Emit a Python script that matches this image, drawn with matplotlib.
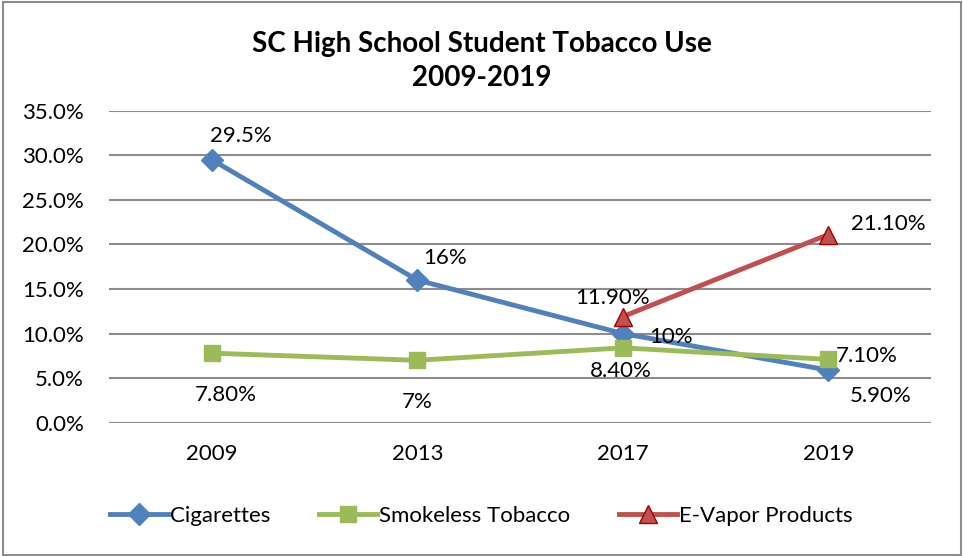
import matplotlib.pyplot as plt
from matplotlib.patches import Rectangle

years = ["2009", "2013", "2017", "2019"]
cigarettes = [29.5, 16, 10, 5.9]
smokeless = [7.8, 7, 8.4, 7.1]
vapor_x = [2, 3]
vapor = [11.9, 21.1]

cig_labels = ["29.5%", "16%", "10%", "5.90%"]
smk_labels = ["7.80%", "7%", "8.40%", "7.10%"]
vap_labels = ["11.90%", "21.10%"]

plt.rcParams['font.family'] = ['Lato', 'DejaVu Sans']

fig = plt.figure(figsize=(9.63, 5.56), dpi=100)
ax = fig.add_axes([0.1132, 0.2397, 0.8536, 0.5613])

blue = "#4F81BD"
green = "#9BBB59"
red = "#C0504D"

x = list(range(len(years)))
ax.plot(x, cigarettes, color=blue, lw=3.5, marker="D", ms=11, label="Cigarettes", zorder=3)
ax.plot(x, smokeless, color=green, lw=3.5, marker="s", ms=12, label="Smokeless Tobacco", zorder=3)
ax.plot(vapor_x, vapor, color=red, lw=3.5, marker="^", ms=13, mfc=red, mec="#A00000",
        label="E-Vapor Products", zorder=4)

# label offsets in pixels (dx, dy)
cig_off = [(29, 24), (28, 22), (48, -3), (52, -26)]
smk_off = [(14, -42), (0, -42), (-2, -23), (38, 3)]
vap_off = [(-10, 19), (60, 11)]

fs = 16
for i, (v, t) in enumerate(zip(cigarettes, cig_labels)):
    ax.annotate(t, (x[i], v), xytext=cig_off[i], textcoords="offset pixels",
                ha="center", va="center", fontsize=fs)
for i, (v, t) in enumerate(zip(smokeless, smk_labels)):
    ax.annotate(t, (x[i], v), xytext=smk_off[i], textcoords="offset pixels",
                ha="center", va="center", fontsize=fs)
for i, (v, t) in enumerate(zip(vapor, vap_labels)):
    ax.annotate(t, (vapor_x[i], v), xytext=vap_off[i], textcoords="offset pixels",
                ha="center", va="center", fontsize=fs)

ax.set_xlim(-0.5, 3.5)
ax.set_ylim(0, 35)
ax.set_yticks(range(0, 36, 5))
ax.set_yticklabels([f"{v:.1f}%" for v in range(0, 36, 5)])
ax.set_xticks(x)
ax.set_xticklabels(years)
ax.tick_params(length=0, labelsize=fs)
ax.tick_params(axis="x", pad=15)
ax.tick_params(axis="y", pad=18)
ax.grid(axis="y", color="#8C8C8C", lw=1.5)
ax.set_axisbelow(True)
for s in ax.spines.values():
    s.set_visible(False)

fig.text(0.5, 0.89, "SC High School Student Tobacco Use\n2009-2019", ha="center", va="center",
         fontsize=20, fontweight="bold", linespacing=1.4)

fig.legend(loc="center", bbox_to_anchor=(0.5, 0.072), ncol=3, frameon=False, fontsize=fs,
           handlelength=2.6, columnspacing=2.2, handletextpad=0.1)

fig.patches.append(Rectangle((0.003, 0.002), 0.995, 0.995, transform=fig.transFigure,
                             fill=False, edgecolor="#8C8C8C", lw=1.5))

fig.savefig("out.png", dpi=100)
